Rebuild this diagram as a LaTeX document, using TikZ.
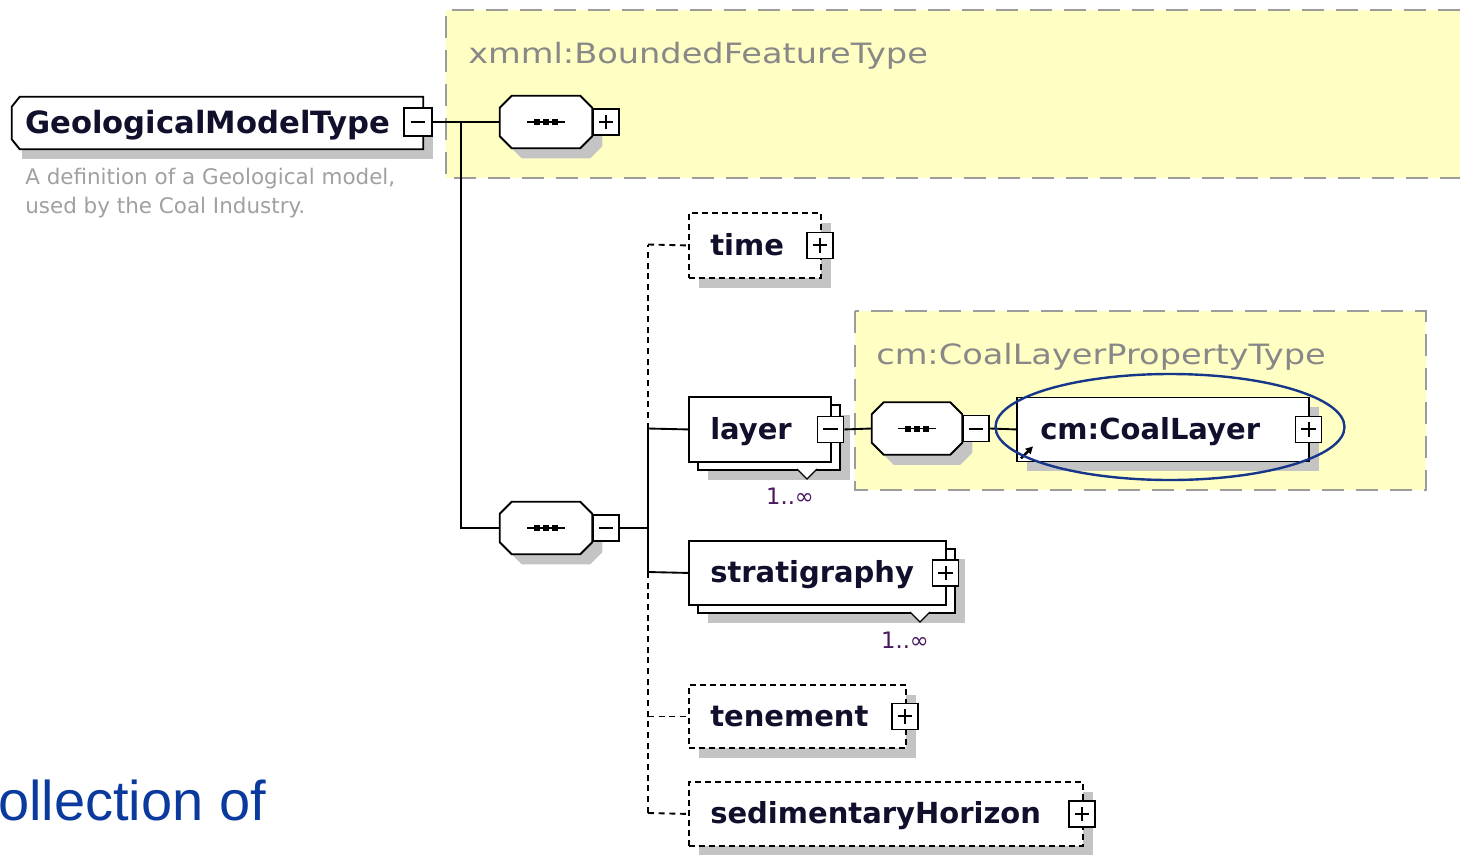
\documentclass[tikz,border=0pt]{standalone}
\usepackage{fontspec}
\setmainfont{DejaVu Sans}
\newfontfamily\labelfont[FakeStretch=1.2]{DejaVu Sans}
\newfontfamily\bluefont{Liberation Sans}
\usetikzlibrary{shapes.geometric,arrows.meta,shadows}
\definecolor{yel}{HTML}{FFFFC4}
\definecolor{ygray}{HTML}{9C9C9C}
\definecolor{shad}{HTML}{C4C4C4}
\definecolor{nametxt}{HTML}{10102C}
\definecolor{graytxt}{HTML}{888888}
\definecolor{desctxt}{HTML}{A0A0A0}
\definecolor{multi}{HTML}{4A1860}
\definecolor{ellblue}{HTML}{16368A}
\definecolor{slide}{HTML}{0B3A9E}
% octagonal sequence compositor drawn round a named node
\newcommand\seqoct[1]{%
 \fill[shad] ([shift={(22,10)}]#1.north west) -- ([shift={(-2,10)}]#1.north east) -- ([shift={(10,22)}]#1.north east)
   -- ([shift={(10,-2)}]#1.south east) -- ([shift={(-2,10)}]#1.south east) -- ([shift={(22,10)}]#1.south west)
   -- ([shift={(10,-2)}]#1.south west) -- ([shift={(10,22)}]#1.north west) -- cycle;
 \draw[line width=1.4pt, fill=white] ([shift={(12,0)}]#1.north west) -- ([shift={(-12,0)}]#1.north east) -- ([shift={(0,12)}]#1.north east)
   -- ([shift={(0,-12)}]#1.south east) -- ([shift={(-12,0)}]#1.south east) -- ([shift={(12,0)}]#1.south west)
   -- ([shift={(0,-12)}]#1.south west) -- ([shift={(0,12)}]#1.north west) -- cycle;
 \draw[line width=1.4pt] ([shift={(-19,0)}]#1.center) -- ([shift={(19,0)}]#1.center);
 \foreach \d in {-9,0,9} \fill ([shift={(\d,0)}]#1.center) +(-3,-3) rectangle +(3,3);
}
\begin{document}
\begin{tikzpicture}[x=0.75pt,y=-0.75pt,
  sz/.style 2 args={minimum width=#1*0.75pt, minimum height=#2*0.75pt},
  shd/.style={drop shadow={shadow xshift=7.5pt, shadow yshift=-7.5pt, fill=shad, opacity=1}},
  elem/.style={rectangle, draw, fill=white, line width=1.4pt, inner sep=0pt, anchor=north west},
  optelem/.style={elem, dash pattern=on 4.5pt off 3pt},
  ntext/.style={font=\bfseries\fontsize{21.75pt}{24pt}\selectfont, text=nametxt, inner sep=0pt, anchor=base west},
  glabel/.style={font=\labelfont\fontsize{21pt}{24pt}\selectfont, text=graytxt, inner sep=0pt, anchor=base west},
  desc/.style={font=\fontsize{16.1pt}{20pt}\selectfont, text=desctxt, inner sep=0pt, anchor=base west},
  multtext/.style={font=\fontsize{17pt}{18pt}\selectfont, text=multi, inner sep=0pt, anchor=base},
  btn/.style={rectangle, draw, fill=white, line width=1.3pt, minimum size=19.5pt, inner sep=0pt},
  plusbtn/.style={btn, path picture={
     \draw[line width=1.5pt] ([xshift=-5.5pt]path picture bounding box.center) -- ([xshift=5.5pt]path picture bounding box.center)
       ([yshift=-5.5pt]path picture bounding box.center) -- ([yshift=5.5pt]path picture bounding box.center);}},
  minusbtn/.style={btn, path picture={
     \draw[line width=1.5pt] ([xshift=-5.5pt]path picture bounding box.center) -- ([xshift=5.5pt]path picture bounding box.center);}},
  seqbox/.style={rectangle, sz={92}{52}, inner sep=0pt},
  conn/.style={line width=1.4pt},
  optconn/.style={conn, dash pattern=on 4.5pt off 3.5pt},
  ybord/.style={ygray, line width=1.8pt, dash pattern=on 16.5pt off 9pt},
  vmark/.style={line width=1pt, fill=white}
]
\useasboundingbox (0,0) rectangle (1460,854);

% yellow type areas
\fill[yel] (446,10) rectangle (1460,178);
\draw[ybord] (1460,10) -- (446,10) -- (446,178) -- (1460,178);
\fill[yel] (855,311) rectangle (1426,490);
\draw[ybord] (855,311) rectangle (1426,490);
\node[glabel] (bft) at (468,63) {xmml:BoundedFeatureType};
\node[glabel] (clpt) at (876,364) {cm:CoalLayerPropertyType};

% connectors
\coordinate (j1) at (461,122);
\coordinate (bus) at (648,528);
\coordinate (busL) at (648,428.5);
\coordinate (busS) at (648,572);
\coordinate (busT) at (648,244.5);
\coordinate (busB) at (648,813);

% root element
\node[rectangle, inner sep=0pt, sz={411}{52}] (gmt) at (217.5,123) {};
\fill[shad] ([shift={(10,10)}]gmt.north west) rectangle ([shift={(10,10)}]gmt.south east);
\draw[line width=1.4pt, fill=white] ([shift={(8,0)}]gmt.north west) -- (gmt.north east) -- (gmt.south east)
   -- ([shift={(8,0)}]gmt.south west) -- ([shift={(0,-10)}]gmt.south west) -- ([shift={(0,10)}]gmt.north west) -- cycle;
\node[ntext, font=\bfseries\fontsize{23pt}{26pt}\selectfont] (gmtt) at (25,133) {GeologicalModelType};
\node[minusbtn, minimum size=21pt] (gmtb) at (418,122) {};
\node[desc] (d1) at (25,184) {A definition of a Geological model,};
\node[desc] (d2) at (25,213) {used by the Coal Industry.};

% sequence compositors
\node[seqbox] (seq1) at (546,122) {};
\node[seqbox] (seq2) at (546,528) {};
\draw[conn] (gmtb.east) -- (seq1.west);
\draw[conn] (j1) |- (seq2.west);
\seqoct{seq1}
\seqoct{seq2}
\node[plusbtn, anchor=west] (seq1b) at (seq1.east) {};
\node[minusbtn, anchor=west] (seq2b) at (seq2.east) {};

\draw[conn] (seq2b.east) -- (bus);
\draw[conn] (busL) -- (busS);
\draw[optconn] (busL) -- (busT);
\draw[optconn] (busS) -- (busB);

% time
\node[optelem, sz={132}{65}, shd] (time) at (688,212) {};
\draw[optconn] (busT) -- (time.west);
\node[ntext] (timet) at ([shift={(22,10)}]time.west) {time};
\node[plusbtn] (timeb) at ([xshift=-1.5pt]time.east) {};

% layer
\node[elem, sz={142}{65}, shd] (layerbk) at (697,404) {};
\node[elem, sz={142}{65}] (layer) at (688,396) {};
\draw[conn] (busL) -- (layer.west);
\node[ntext] (layert) at ([shift={(22,10)}]layer.west) {layer};
\node[minusbtn] (layerb) at ([xshift=-1pt]layer.east) {};
\draw[vmark] (797,469) -- (807,479) -- (817,469);
\node[multtext] (layerm) at (790,504) {1..∞};

% CoalLayer reference
\node[seqbox, sz={90}{52}] (seq3) at (917,428.5) {};
\draw[conn] (layerb.east) -- (seq3.west);
\seqoct{seq3}
\node[minusbtn, anchor=west] (seq3b) at (seq3.east) {};
\node[elem, sz={292}{64}, shd] (coal) at (1016,396.5) {};
\draw[conn] (seq3b.east) -- (coal.west);
\node[ntext] (coalt) at ([shift={(24,10)}]coal.west) {cm:CoalLayer};
\node[plusbtn] (coalb) at ([xshift=-1pt]coal.east) {};
\draw[line width=1.8pt, -{Triangle[length=5.5pt,width=5.5pt]}] ([shift={(5,-4)}]coal.south west) -- ++(12,-12);

% stratigraphy
\node[elem, sz={257}{64}, shd] (stratbk) at (697,548) {};
\node[elem, sz={257}{64}] (strat) at (688,540) {};
\draw[conn] (busS) -- (strat.west);
\node[ntext] (stratt) at ([shift={(22,10)}]strat.west) {stratigraphy};
\node[plusbtn] (stratb) at ([xshift=-1pt]strat.east) {};
\draw[vmark] (910,612) -- (920,622) -- (930,612);
\node[multtext] (stratm) at (905,648) {1..∞};

% tenement
\node[optelem, sz={217}{63}, shd] (ten) at (688,684) {};
\draw[optconn] (ten.west -| busS) -- (ten.west);
\node[ntext] (tent) at ([shift={(22,10)}]ten.west) {tenement};
\node[plusbtn] (tenb) at ([xshift=-1.5pt]ten.east) {};

% sedimentaryHorizon
\node[optelem, sz={394}{64}, shd] (sed) at (688,781) {};
\draw[optconn] (busB) -- (sed.west);
\node[ntext] (sedt) at ([shift={(22,10)}]sed.west) {sedimentaryHorizon};
\node[plusbtn] (sedb) at ([xshift=-1.5pt]sed.east) {};

% highlight ellipse
\node[ellipse, draw=ellblue, line width=1.8pt, sz={349}{106}, inner sep=0pt] (hl) at (1170,427) {};

% slide text
\node[font=\bluefont\fontsize{42pt}{48pt}\selectfont, text=slide, inner sep=0pt, anchor=base west] (slidet) at (-2,820) {ollection of};
\end{tikzpicture}
\end{document}
